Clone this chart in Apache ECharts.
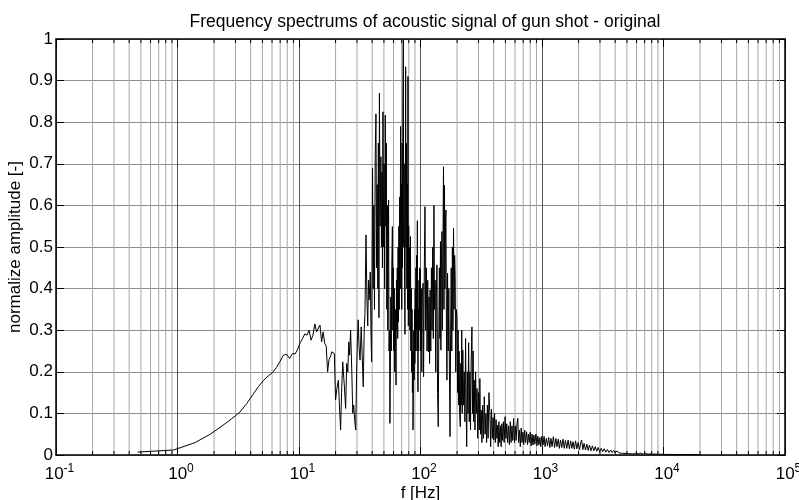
<!DOCTYPE html>
<html>
<head>
<meta charset="utf-8">
<title>Frequency spectrum</title>
<script src="https://cdn.jsdelivr.net/npm/echarts@6/dist/echarts.min.js"></script>
<style>
  html, body { margin: 0; padding: 0; background: #ffffff; }
  #chart { width: 799px; height: 500px; }
</style>
</head>
<body>
<div id="chart"></div>
<script>
// Spectrum samples as [frequency in Hz, normalized amplitude]
const riseBand = [
  [0.47,0.007],[0.93,0.012],[1.4,0.03],[1.86,0.05],[2.33,0.07],[2.79,0.087],[3.26,0.103],
  [3.72,0.124],[4.19,0.146],[4.65,0.165],[5.12,0.18],[5.58,0.19],[6.05,0.198],[6.51,0.21],
  [6.98,0.225],[7.44,0.24],[7.91,0.242],[8.37,0.232],[8.84,0.244],[9.3,0.243],[9.77,0.255],
  [10.23,0.27],[10.7,0.28],[11.16,0.291],[11.63,0.288],[12.1,0.3],[12.56,0.276],[13.02,0.288],
  [13.5,0.315],[13.95,0.296],[14.4,0.3],[14.88,0.3125],[15.35,0.272],[15.8,0.296],[16.28,0.268],
  [16.74,0.262],[17.2,0.2],[17.67,0.23],[18.14,0.236],[18.6,0.248],[19.07,0.246],[19.53,0.244]
];
const burstBand = [
  [20.0,0.132],[20.5,0.16],[21.1,0.18],[21.5,0.12],[22.0,0.06],[22.4,0.15],[22.9,0.224],
  [23.3,0.19],[23.6,0.168],[24.2,0.112],[24.7,0.22],[25.2,0.2],[25.7,0.272],[26.1,0.24],
  [26.6,0.3],[27.2,0.2],[27.7,0.1],[28.2,0.12],[28.8,0.08],[29.3,0.06],[29.8,0.2],[30.2,0.27],
  [30.7,0.325],[31.2,0.26],[31.8,0.228],[32.5,0.308],[33.1,0.24],[33.8,0.164],[34.4,0.3],
  [34.9,0.34],[35.6,0.529],[36.2,0.38],[36.8,0.31],[37.3,0.42],[37.8,0.373],[38.6,0.44],
  [39.1,0.3],[39.6,0.224],[40.3,0.689],[40.8,0.4],[41.3,0.6],[41.8,0.35],[42.4,0.72],[43.0,0.82],
  [43.5,0.45],[44.0,0.65],[44.5,0.4],[45.0,0.75],[45.5,0.33],[45.9,0.87],[46.5,0.55],[47.2,0.717],
  [47.7,0.5],[48.2,0.68],[48.6,0.45],[49.1,0.825],[49.6,0.5],[50.2,0.7],[50.7,0.4],[51.3,0.817],
  [51.8,0.55],[52.3,0.75],[52.8,0.35],[53.3,0.6],[53.8,0.3],[54.3,0.5],[54.6,0.613],[55.1,0.25],
  [55.6,0.3],[56.0,0.076],[56.5,0.2],[57.0,0.38],[57.5,0.25],[58.0,0.45],[58.7,0.549],[59.2,0.3],
  [59.7,0.45],[60.2,0.25],[60.8,0.4],[61.4,0.2],[62.0,0.35],[62.9,0.168],[63.4,0.42],[63.9,0.3],
  [64.4,0.45],[64.9,0.28],[65.4,0.5],[65.9,0.32],[66.4,0.55],[66.9,0.35],[67.4,0.62],[67.9,0.4],
  [68.6,0.79],[69.1,0.4],[69.6,0.65],[70.1,0.35],[70.6,0.75],[71.1,0.45],[71.6,0.85],[72.2,1.0],
  [72.8,0.5],[73.4,0.7],[74.0,0.4],[74.5,0.29],[75.0,0.6],[75.5,0.933],[76.0,0.5],[76.6,0.75],
  [77.2,0.4],[77.8,0.65],[78.3,0.35],[78.9,0.91],[79.4,0.31],[80.0,0.55],[80.6,0.35],[81.2,0.5],
  [81.8,0.3],[82.7,0.525],[83.3,0.25],[84.0,0.4],[84.6,0.2],[85.2,0.35],[85.8,0.15],[86.3,0.25],
  [86.8,0.06],[87.5,0.2],[88.1,0.3],[88.7,0.18],[89.3,0.35],[89.9,0.22],[90.5,0.4],[91.1,0.25],
  [91.7,0.45],[92.3,0.3],[92.9,0.48],[93.5,0.25],[94.2,0.563],[94.8,0.3],[95.3,0.152],[96.0,0.35],
  [96.6,0.25],[97.2,0.42],[97.8,0.3],[98.4,0.45],[99.0,0.35],[99.6,0.445]
];
const midBand = [
  [100.5,0.25],[101.5,0.4],[102.5,0.2],[103.5,0.38],[105.0,0.413],[106.0,0.188],[107.5,0.45],
  [108.9,0.597],[110.3,0.3],[111.8,0.45],[113.2,0.25],[114.7,0.42],[116.0,0.248],[117.5,0.38],
  [118.8,0.22],[120.0,0.397],[121.5,0.25],[123.0,0.45],[124.5,0.3],[126.0,0.5],[127.5,0.28],
  [129.0,0.6],[130.5,0.35],[132.0,0.42],[133.5,0.2],[135.0,0.38],[136.6,0.457],[138.2,0.15],
  [140.0,0.068],[141.5,0.3],[143.0,0.45],[144.5,0.28],[146.0,0.513],[147.2,0.252],[148.6,0.45],
  [150.0,0.537],[151.5,0.3],[153.0,0.5],[154.6,0.693],[156.0,0.35],[157.5,0.649],[159.0,0.4],
  [160.5,0.55],[161.9,0.589],[163.5,0.3],[165.0,0.18],[167.0,0.437],[169.0,0.25],[171.0,0.4],
  [173.0,0.2],[175.0,0.044],[177.0,0.3],[179.0,0.45],[181.0,0.25],[183.0,0.5],[185.0,0.3],
  [187.0,0.545],[189.0,0.35],[191.0,0.48],[193.0,0.429],[195.0,0.2],[197.0,0.35],[199.5,0.333],
  [202.0,0.15],[204.0,0.3],[206.0,0.12],[208.0,0.25],[210.0,0.1],[212.6,0.068],[214.5,0.22],
  [216.5,0.12],[218.5,0.3],[220.5,0.1],[223.0,0.252],[226.0,0.12],[229.0,0.2],[232.0,0.08],
  [235.0,0.28],[238.0,0.1],[240.0,0.02],[243.0,0.2],[246.0,0.1],[249.0,0.27],[252.0,0.08],
  [255.0,0.2],[258.0,0.06],[261.0,0.22],[265.0,0.308],[268.0,0.1],[271.0,0.25],[274.0,0.08],
  [277.0,0.18],[281.0,0.06],[284.0,0.2],[288.0,0.1],[292.0,0.16],[296.0,0.04],[300.0,0.15]
];
const tailBand = [
  [305,0.06],[308,0.184],[312,0.05],[316,0.108],[320,0.03],[325,0.12],[330,0.04],[335,0.14],
  [340,0.05],[345,0.1],[350,0.03],[355,0.12],[360,0.04],[366,0.15],[372,0.104],[378,0.02],
  [384,0.11],[390,0.04],[396,0.09],[401,0.036],[407,0.1],[413,0.03],[419,0.085],[425,0.04],
  [431,0.072],[436,0.02],[442,0.08],[448,0.03],[455,0.07],[461,0.02],[467,0.075],[474,0.035],
  [481,0.08],[488,0.03],[497,0.092],[505,0.04],[513,0.075],[521,0.03],[530,0.07],[539,0.025],
  [548,0.08],[557,0.03],[566,0.07],[575,0.035],[584,0.088],[593,0.03],[603,0.07],[612,0.035],
  [622,0.075],[632,0.088],[642,0.03],[652,0.06],[663,0.02],[674,0.065],[685,0.03],[696,0.055],
  [708,0.025],[720,0.06],[732,0.03],[747,0.056],[760,0.025],[773,0.05],[786,0.03],[800,0.055],
  [814,0.022],[828,0.05],[843,0.024],[858,0.048],[873,0.026],[891,0.05],[908,0.022],[925,0.045],
  [942,0.024],[960,0.042],[978,0.02],[996,0.045],[1020,0.024],[1040,0.045],[1060,0.02],
  [1085,0.04],[1110,0.022],[1135,0.042],[1160,0.018],[1185,0.04],[1210,0.02],[1240,0.044],
  [1270,0.018],[1300,0.04],[1330,0.02],[1360,0.038],[1390,0.016],[1420,0.036],[1455,0.018],
  [1490,0.038],[1525,0.016],[1560,0.035],[1600,0.016],[1640,0.036],[1680,0.015],[1720,0.034],
  [1760,0.016],[1800,0.032],[1845,0.014],[1890,0.034],[1935,0.015],[1980,0.03],[2040,0.013],
  [2080,0.03],[2120,0.036],[2170,0.013],[2220,0.028],[2280,0.012],[2340,0.026],[2400,0.011],
  [2460,0.024],[2530,0.01],[2600,0.022],[2670,0.01],[2744,0.02],[2820,0.009],[2900,0.018],
  [2980,0.008],[3070,0.016],[3160,0.008],[3250,0.015],[3350,0.007],[3450,0.013],[3560,0.006],
  [3670,0.012],[3780,0.006],[3900,0.011],[4020,0.005],[4150,0.01],[4300,0.005],[4450,0.009],
  [4600,0.004],[4760,0.008],[4930,0.0035],[5100,0.007],[5300,0.003],[5500,0.0065],[5700,0.0025],
  [5950,0.005],[6200,0.0025],[6500,0.0045],[6800,0.002],[7100,0.004],[7450,0.002],[7800,0.003],
  [8200,0.0018],[8600,0.0025],[9000,0.0015],[9500,0.002],[10000,0.0012],[11000,0.0015],
  [12500,0.001],[15000,0.0012],[20000,0.0008]
];

// Axis decades (exponents of 10) and the in-between multipliers for minor grid lines
const xDecades = [-1, 0, 1, 2, 3, 4, 5];
const minorSteps = [2, 3, 4, 5, 6, 7, 8, 9];
const yTickLabels = ['0', '0.1', '0.2', '0.3', '0.4', '0.5', '0.6', '0.7', '0.8', '0.9', '1'];

const chartTitle = 'Frequency spectrums of acoustic signal of gun shot - original';
const xName = 'f [Hz]';
const yName = 'normalize amplitude [-]';

const spectrum = riseBand.concat(burstBand, midBand, tailBand);

const minorValues = [];
for (let i = 0; i < xDecades.length - 1; i++) {
  for (const m of minorSteps) {
    minorValues.push([m * Math.pow(10, xDecades[i]), 0]);
  }
}

const FONT = '"Liberation Sans", Arial, Helvetica, sans-serif';

const chart = echarts.init(document.getElementById('chart'), null, { renderer: 'canvas' });

const xCommon = {
  type: 'log',
  logBase: 10,
  min: Math.pow(10, xDecades[0]),
  max: Math.pow(10, xDecades[xDecades.length - 1]),
  splitNumber: xDecades.length - 1,
  axisLine: { show: true, onZero: false, lineStyle: { color: '#000', width: 1.5 } },
  axisTick: { show: true, inside: true, length: 8, lineStyle: { color: '#000', width: 1 } },
  minorTick: { show: false },
  splitLine: { show: true, lineStyle: { color: '#555', width: 1 } }
};

const yCommon = {
  type: 'value',
  min: 0,
  max: 1,
  interval: 0.1,
  axisLine: { show: true, onZero: false, lineStyle: { color: '#000', width: 1.5 } },
  axisTick: { show: true, inside: true, length: 8, lineStyle: { color: '#000', width: 1 } },
  splitLine: { show: true, lineStyle: { color: '#8c8c8c', width: 1 } }
};

chart.setOption({
  animation: false,
  backgroundColor: '#ffffff',
  title: {
    text: chartTitle,
    left: 420,
    top: 8,
    textAlign: 'center',
    textStyle: { fontFamily: FONT, fontSize: 17.5, fontWeight: 'normal', color: '#000' }
  },
  grid: { left: 56, right: 14, top: 39, bottom: 45, containLabel: false, outerBoundsMode: 'none' },
  xAxis: [
    Object.assign({}, xCommon, {
      position: 'bottom',
      name: xName,
      nameLocation: 'middle',
      nameGap: 30,
      nameMoveOverlap: false,
      nameTextStyle: { fontFamily: FONT, fontSize: 17, color: '#000' },
      axisLabel: {
        show: true,
        margin: 8,
        formatter: function (v) {
          const e = Math.round(Math.log10(v));
          return '{b|10}{s|' + e + '}';
        },
        rich: {
          b: { fontFamily: FONT, fontSize: 17, color: '#000', padding: [0, 0, 0, 7] },
          s: { fontFamily: FONT, fontSize: 12, color: '#000', padding: [0, 0, 10, 0] }
        }
      }
    }),
    Object.assign({}, xCommon, {
      position: 'top',
      axisLabel: { show: false },
      splitLine: { show: false }
    })
  ],
  yAxis: [
    Object.assign({}, yCommon, {
      position: 'left',
      name: yName,
      nameLocation: 'middle',
      nameGap: 32,
      nameMoveOverlap: false,
      nameTextStyle: { fontFamily: FONT, fontSize: 17, color: '#000' },
      axisLabel: {
        show: true,
        margin: 3,
        fontFamily: FONT,
        fontSize: 17,
        color: '#000',
        formatter: function (v) { return yTickLabels[Math.round(v * 10)]; }
      }
    }),
    Object.assign({}, yCommon, {
      position: 'right',
      axisLabel: { show: false },
      splitLine: { show: false }
    })
  ],
  series: [
    {
      // minor logarithmic grid lines plus the short minor ticks along top and bottom
      type: 'custom',
      xAxisIndex: 0,
      yAxisIndex: 0,
      silent: true,
      z: 1,
      data: minorValues,
      encode: { x: 0, y: 1 },
      renderItem: function (params, api) {
        const v = api.value(0);
        const p0 = api.coord([v, 0]);
        const p1 = api.coord([v, 1]);
        return {
          type: 'group',
          children: [
            { type: 'line', shape: { x1: p0[0], y1: p0[1], x2: p1[0], y2: p1[1] },
              style: { stroke: '#a6a6a6', lineWidth: 1 } },
            { type: 'line', shape: { x1: p0[0], y1: p0[1], x2: p0[0], y2: p0[1] - 4 },
              style: { stroke: '#000', lineWidth: 1 } },
            { type: 'line', shape: { x1: p1[0], y1: p1[1], x2: p1[0], y2: p1[1] + 4 },
              style: { stroke: '#000', lineWidth: 1 } }
          ]
        };
      }
    },
    {
      type: 'line',
      xAxisIndex: 0,
      yAxisIndex: 0,
      z: 3,
      data: spectrum,
      showSymbol: false,
      symbol: 'none',
      lineStyle: { color: '#000', width: 1 },
      silent: true
    }
  ]
});
</script>
</body>
</html>
